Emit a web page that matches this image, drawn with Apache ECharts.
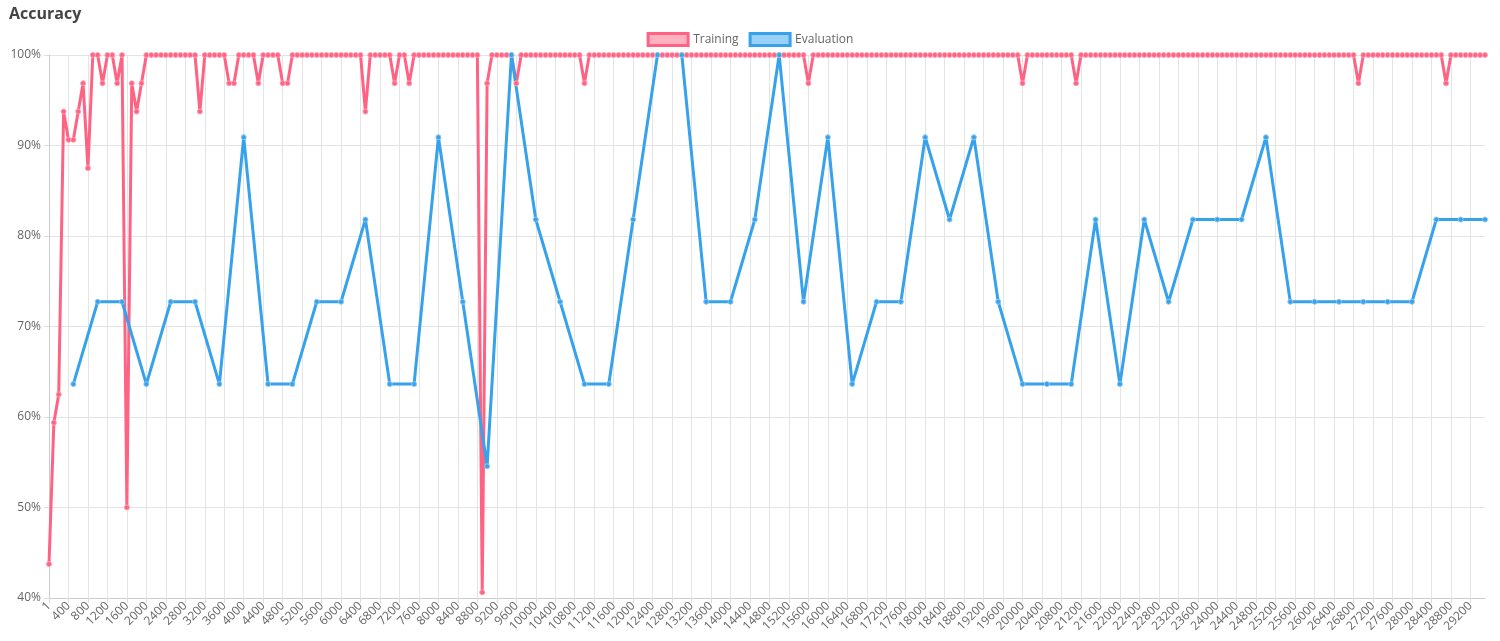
<!DOCTYPE html>
<html>
<head>
<meta charset="utf-8">
<script src="https://cdn.jsdelivr.net/npm/echarts@6/dist/echarts.min.js"></script>
<style>
  html, body { margin: 0; padding: 0; background: #fff; }
  #chart { width: 1500px; height: 641px; }
</style>
</head>
<body>
<div id="chart"></div>
<script>
// training accuracy, one value per 100 steps (1, 100, 200 ... 29500)
var trainingValues = [
  43.75, 59.375, 62.5, 93.75, 90.625, 90.625, 93.75, 96.875, 87.5, 100, 100, 96.875, 100, 100, 96.875, 100, 50, 96.875, 93.75, 96.875,
  100, 100, 100, 100, 100, 100, 100, 100, 100, 100, 100, 93.75, 100, 100, 100, 100, 100, 96.875, 96.875, 100,
  100, 100, 100, 96.875, 100, 100, 100, 100, 96.875, 96.875, 100, 100, 100, 100, 100, 100, 100, 100, 100, 100,
  100, 100, 100, 100, 100, 93.75, 100, 100, 100, 100, 100, 96.875, 100, 100, 96.875, 100, 100, 100, 100, 100,
  100, 100, 100, 100, 100, 100, 100, 100, 100, 40.625, 96.875, 100, 100, 100, 100, 100, 96.875, 100, 100, 100,
  100, 100, 100, 100, 100, 100, 100, 100, 100, 100, 96.875, 100, 100, 100, 100, 100, 100, 100, 100, 100,
  100, 100, 100, 100, 100, 100, 100, 100, 100, 100, 100, 100, 100, 100, 100, 100, 100, 100, 100, 100,
  100, 100, 100, 100, 100, 100, 100, 100, 100, 100, 100, 100, 100, 100, 100, 100, 96.875, 100, 100, 100,
  100, 100, 100, 100, 100, 100, 100, 100, 100, 100, 100, 100, 100, 100, 100, 100, 100, 100, 100, 100,
  100, 100, 100, 100, 100, 100, 100, 100, 100, 100, 100, 100, 100, 100, 100, 100, 100, 100, 100, 100,
  96.875, 100, 100, 100, 100, 100, 100, 100, 100, 100, 100, 96.875, 100, 100, 100, 100, 100, 100, 100, 100,
  100, 100, 100, 100, 100, 100, 100, 100, 100, 100, 100, 100, 100, 100, 100, 100, 100, 100, 100, 100,
  100, 100, 100, 100, 100, 100, 100, 100, 100, 100, 100, 100, 100, 100, 100, 100, 100, 100, 100, 100,
  100, 100, 100, 100, 100, 100, 100, 100, 100, 96.875, 100, 100, 100, 100, 100, 100, 100, 100, 100, 100,
  100, 100, 100, 100, 100, 100, 100, 96.875, 100, 100, 100, 100, 100, 100, 100, 100
];
// evaluation accuracy, every 500 steps (500 ... 29500)
var evalValues = [
  63.64, 72.73, 72.73, 63.64, 72.73, 72.73, 63.64, 90.91, 63.64, 63.64,
  72.73, 72.73, 81.82, 63.64, 63.64, 90.91, 72.73, 54.55, 100, 81.82,
  72.73, 63.64, 63.64, 81.82, 100, 100, 72.73, 72.73, 81.82, 100,
  72.73, 90.91, 63.64, 72.73, 72.73, 90.91, 81.82, 90.91, 72.73, 63.64,
  63.64, 63.64, 81.82, 63.64, 81.82, 72.73, 81.82, 81.82, 81.82, 90.91,
  72.73, 72.73, 72.73, 72.73, 72.73, 72.73, 81.82, 81.82, 81.82
];
var stepSize = 100;
var evalEvery = 5;

var categories = trainingValues.map(function(v, i){
    return i === 0 ? '1' : String(i * stepSize)
})
var evalData = trainingValues.map(function(){ return null })
evalValues.forEach(function(v, k){
    evalData[(k + 1) * evalEvery] = v
})

var myChart = echarts.init(document.getElementById('chart'));
var font = 'Open Sans, Helvetica, Arial, sans-serif';
var option = {
    animation: false,
    textStyle: { fontFamily: font },
    title: {
        text: 'Accuracy', left: 4, top: 1,
        textStyle: { fontSize: 16, fontWeight: 'bold', color: '#444', fontFamily: font }
    },
    legend: {
        top: 27, left: 'center',
        itemWidth: 40, itemHeight: 12, itemGap: 10, icon: 'rect',
        textStyle: { color: '#666', fontSize: 12 },
        data: [
            { name: 'Training', itemStyle: { color: 'rgba(255,99,132,0.5)', borderColor: '#ff6384', borderWidth: 3 } },
            { name: 'Evaluation', itemStyle: { color: 'rgba(54,162,235,0.5)', borderColor: '#36a2eb', borderWidth: 3 } }
        ]
    },
    grid: { left: 49, right: 15, top: 55, bottom: 43, containLabel: false },
    xAxis: {
        type: 'category', data: categories, boundaryGap: false,
        axisLine: { lineStyle: { color: '#ccc' } },
        axisTick: { show: true, interval: 3, length: 5, lineStyle: { color: '#ddd' } },
        axisLabel: { interval: 3, rotate: 45, color: '#666', fontSize: 12, margin: 6 },
        splitLine: { show: true, interval: 3, lineStyle: { color: '#e4e4e4' } }
    },
    yAxis: {
        type: 'value', min: 40, max: 100, interval: 10,
        axisLine: { show: true, lineStyle: { color: '#ccc' } },
        axisTick: { show: true, length: 5, lineStyle: { color: '#ddd' } },
        axisLabel: { formatter: '{value}%', color: '#666', fontSize: 12 },
        splitLine: { lineStyle: { color: '#e4e4e4' } }
    },
    series: [
        {
            name: 'Training', type: 'line', data: trainingValues,
            symbol: 'circle', symbolSize: 5, showAllSymbol: true,
            lineStyle: { width: 3, color: '#ff6384' },
            itemStyle: { color: '#ff6384', borderColor: '#ff9fb3', borderWidth: 1 }
        },
        {
            name: 'Evaluation', type: 'line', data: evalData, connectNulls: true,
            symbol: 'circle', symbolSize: 5, showAllSymbol: true,
            lineStyle: { width: 3, color: '#36a2eb' },
            itemStyle: { color: '#36a2eb', borderColor: '#8cc8f2', borderWidth: 1 }
        }
    ]
};
myChart.setOption(option);
</script>
</body>
</html>
